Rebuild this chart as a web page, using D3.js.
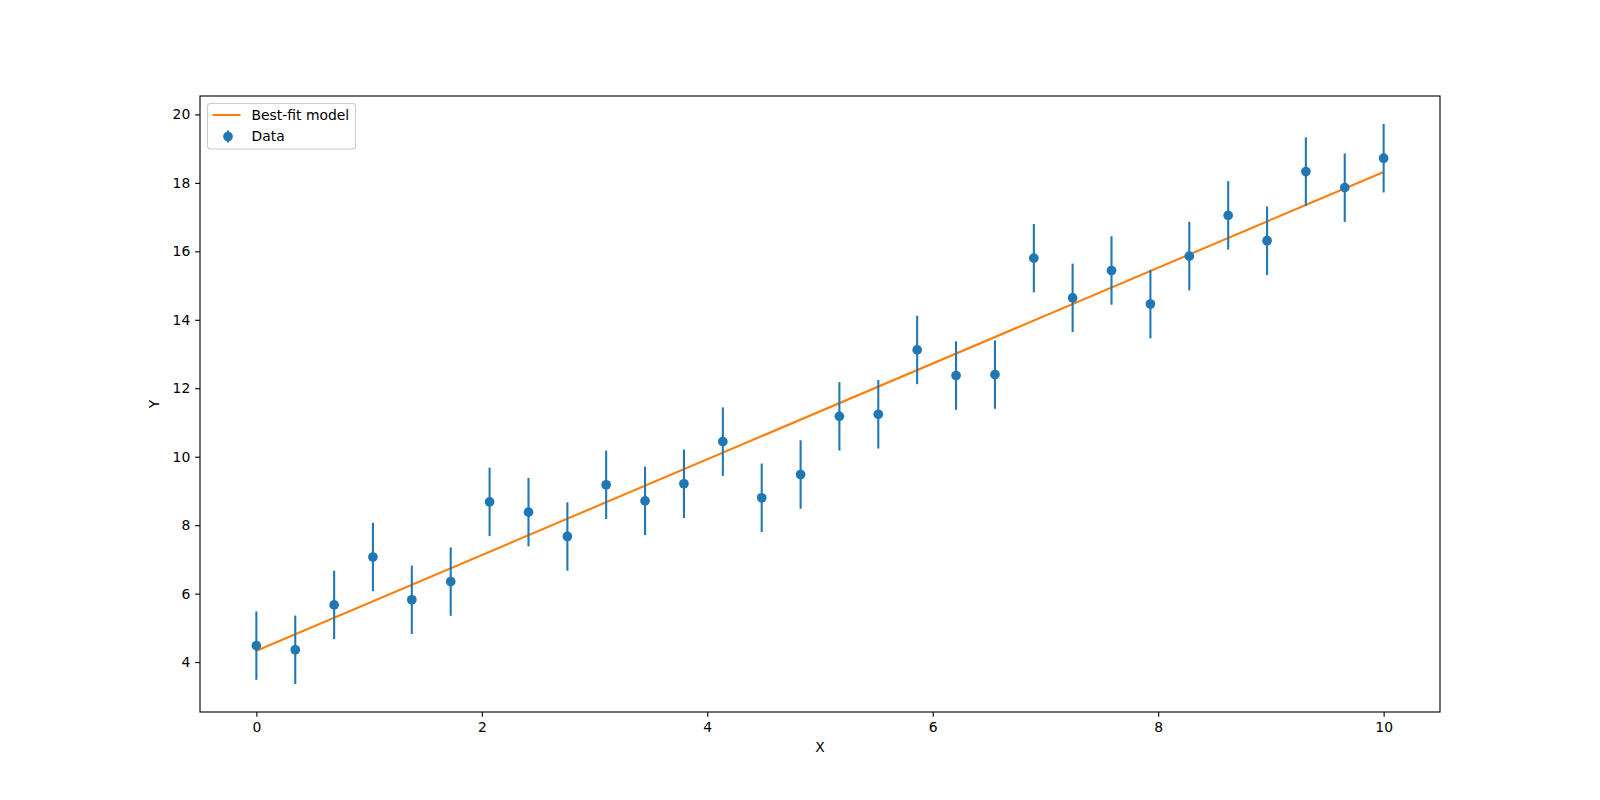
<!DOCTYPE html>
<html>
<head>
<meta charset="utf-8">
<script src="https://cdn.jsdelivr.net/npm/d3@7"></script>
<style>
  body { margin: 0; background: #fff; }
  svg { display: block; }
  text { font-family: "DejaVu Sans", sans-serif; }
</style>
</head>
<body>
<svg id="chart" width="1600" height="800"></svg>
<script>
// ---- data ----
const xValues = [0.000, 0.345, 0.690, 1.034, 1.379, 1.724, 2.069, 2.414, 2.759, 3.103,
                 3.448, 3.793, 4.138, 4.483, 4.828, 5.172, 5.517, 5.862, 6.207, 6.552,
                 6.897, 7.241, 7.586, 7.931, 8.276, 8.621, 8.966, 9.310, 9.655, 10.000];
const yValues = [4.48, 4.36, 5.67, 7.07, 5.82, 6.35, 8.68, 8.38, 7.67, 9.18,
                 8.71, 9.21, 10.44, 8.80, 9.48, 11.18, 11.24, 13.12, 12.37, 12.40,
                 15.80, 14.64, 15.44, 14.46, 15.86, 17.05, 16.31, 18.33, 17.86, 18.72];
const yErrors = [1,1,1,1,1,1,1,1,1,1, 1,1,1,1,1,1,1,1,1,1, 1,1,1,1,1,1,1,1,1,1];
const fitX = [0, 10];
const fitY = [4.33, 18.32];
const xTicks = [0, 2, 4, 6, 8, 10];
const yTicks = [4, 6, 8, 10, 12, 14, 16, 18, 20];
const legendLabels = ["Best-fit model", "Data"];

// ---- layout ----
const mLeft = 200, mRight = 1440, mTop = 96, mBottom = 712;
const blue = "#1f77b4", orange = "#ff7f0e";

const svg = d3.select("#chart");

const xMin = d3.min(xValues), xMax = d3.max(xValues);
const xPad = (xMax - xMin) * 0.05;
const yLo = d3.min(yValues.map((v, i) => v - yErrors[i]));
const yHi = d3.max(yValues.map((v, i) => v + yErrors[i]));
const yPad = (yHi - yLo) * 0.05;

const x = d3.scaleLinear().domain([xMin - xPad, xMax + xPad]).range([mLeft, mRight]);
const y = d3.scaleLinear().domain([yLo - yPad, yHi + yPad]).range([mBottom, mTop]);

const plot = svg.append("g");

// fit line
plot.append("path")
  .datum(fitX.map((v, i) => [v, fitY[i]]))
  .attr("d", d3.line().x(d => x(d[0])).y(d => y(d[1])))
  .attr("fill", "none").attr("stroke", orange).attr("stroke-width", 2.08);

// error bars
const pts = xValues.map((v, i) => ({x: v, y: yValues[i], e: yErrors[i]}));
plot.selectAll("line.err").data(pts).join("line")
  .attr("class", "err")
  .attr("x1", d => x(d.x)).attr("x2", d => x(d.x))
  .attr("y1", d => y(d.y - d.e)).attr("y2", d => y(d.y + d.e))
  .attr("stroke", blue).attr("stroke-width", 2.08);

plot.selectAll("circle.pt").data(pts).join("circle")
  .attr("class", "pt")
  .attr("cx", d => x(d.x)).attr("cy", d => y(d.y))
  .attr("r", 4.86).attr("fill", blue);

// axes
const xAxis = d3.axisBottom(x).tickValues(xTicks).tickSize(4.86).tickPadding(4.86).tickFormat(d3.format("d"));
const yAxis = d3.axisLeft(y).tickValues(yTicks).tickSize(4.86).tickPadding(4.86).tickFormat(d3.format("d"));

const gx = svg.append("g").attr("transform", `translate(0,${mBottom})`).call(xAxis);
const gy = svg.append("g").attr("transform", `translate(${mLeft},0)`).call(yAxis);
[gx, gy].forEach(g => {
  g.select(".domain").remove();
  g.selectAll("line").attr("stroke", "#000").attr("stroke-width", 1.11);
  g.selectAll("text").attr("font-size", "13.9px").attr("fill", "#000")
    .attr("font-family", "DejaVu Sans, sans-serif");
});

// spines
svg.append("rect")
  .attr("x", mLeft).attr("y", mTop).attr("width", mRight - mLeft).attr("height", mBottom - mTop)
  .attr("fill", "none").attr("stroke", "#000").attr("stroke-width", 1.11);

// axis labels
svg.append("text").attr("x", (mLeft + mRight) / 2).attr("y", 752)
  .attr("text-anchor", "middle").attr("font-size", "13.9px").text("X");
svg.append("text").attr("transform", `translate(159,${(mTop + mBottom) / 2}) rotate(-90)`)
  .attr("text-anchor", "middle").attr("font-size", "13.9px").text("Y");

// legend
const lg = svg.append("g");
lg.append("rect").attr("x", 207.5).attr("y", 103.5).attr("width", 148).attr("height", 45.5)
  .attr("rx", 3).attr("fill", "#fff").attr("fill-opacity", 0.8)
  .attr("stroke", "#cccccc").attr("stroke-width", 1.11);
lg.append("line").attr("x1", 212.5).attr("x2", 240.5).attr("y1", 115).attr("y2", 115)
  .attr("stroke", orange).attr("stroke-width", 2.08);
lg.append("text").attr("x", 251.5).attr("y", 120).attr("font-size", "13.9px").text(legendLabels[0]);
lg.append("line").attr("x1", 228).attr("x2", 228).attr("y1", 130.5).attr("y2", 142.5)
  .attr("stroke", blue).attr("stroke-width", 2.08);
lg.append("circle").attr("cx", 228).attr("cy", 136.5).attr("r", 4.86).attr("fill", blue);
lg.append("text").attr("x", 251.5).attr("y", 140.5).attr("font-size", "13.9px").text(legendLabels[1]);
</script>
</body>
</html>
